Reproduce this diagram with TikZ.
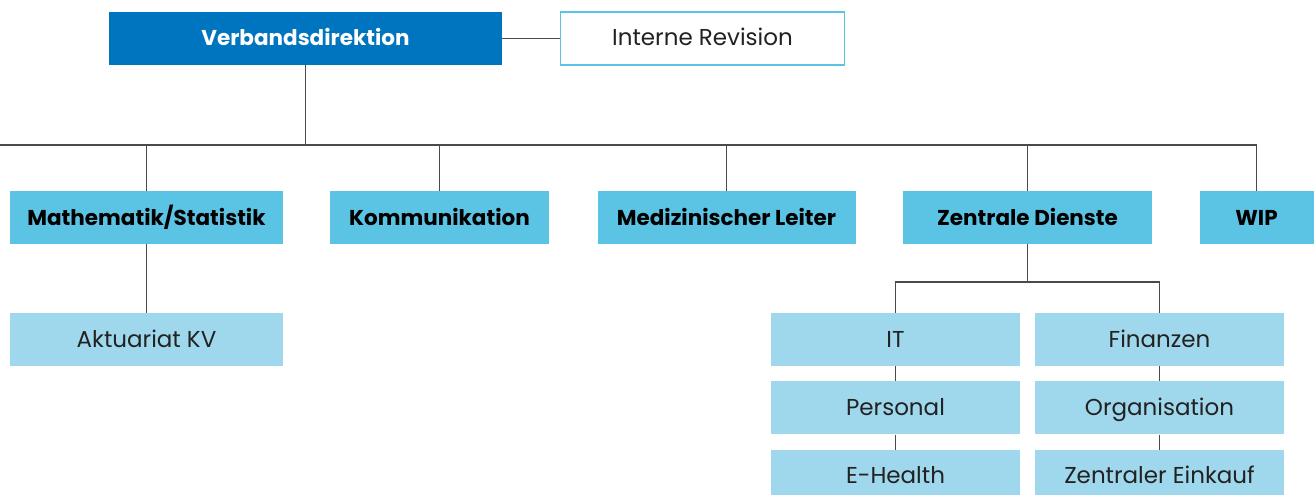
\documentclass[tikz,border=0pt]{standalone}
\usepackage{fontspec}
\setmainfont{Poppins}
\usepackage{xcolor}
\usetikzlibrary{positioning}
\definecolor{vdblue}{HTML}{0075BF}
\definecolor{midcyan}{HTML}{5BC3E3}
\definecolor{lightcyan}{HTML}{9FD7EC}
\definecolor{linegray}{HTML}{4A4A4A}
\definecolor{textgray}{HTML}{222222}

\begin{document}
\begin{tikzpicture}[x=1pt, y=-1pt,
    box/.style={minimum height=53pt, inner sep=0pt, text height=19pt, text depth=4pt, font=\fontsize{23}{27}\selectfont},
    headbox/.style={box, fill=vdblue, text=white, font=\fontsize{21.5}{25}\selectfont\bfseries},
    deptbox/.style={box, fill=midcyan, text=black, font=\fontsize{21.5}{25}\selectfont\bfseries},
    subbox/.style={box, fill=lightcyan, text=textgray},
    conn/.style={draw=linegray, line width=1.2pt}]
        \useasboundingbox (0,0) rectangle (1315,495);

        % top
        \node[headbox, minimum width=393pt] (vd) at (305.5,38.5) {Verbandsdirektion};
        \node[box, draw=midcyan, line width=1.2pt, fill=white, text=textgray, minimum width=284pt] (rev) at (702.5,38.5) {Interne Revision};
        \draw[conn] (vd) -- (rev);

        % departments
        \node[deptbox, minimum width=273pt] (math) at (146.5,217.5) {Mathematik/Statistik};
        \node[deptbox, minimum width=219pt] (komm) at (439.5,217.5) {Kommunikation};
        \node[deptbox, minimum width=258pt] (med) at (726.5,217.5) {Medizinischer Leiter};
        \node[deptbox, minimum width=249pt] (zd) at (1027.5,217.5) {Zentrale Dienste};
        \node[deptbox, minimum width=114pt] (wip) at (1256.5,217.5) {WIP};

        \coordinate (bus) at (0,145);
        \draw[conn] (bus) -- (bus -| wip) -- (wip.north);
        \draw[conn] (vd.south) -- (vd.south |- bus);
        \foreach \d in {math,komm,med,zd}
            \draw[conn] (\d.north) -- (\d.north |- bus);

        % sub units
        \node[subbox, minimum width=273pt] (akt) at (146.5,339.5) {Aktuariat KV};
        \draw[conn] (math) -- (akt);

        \node[subbox, minimum width=249pt] (it) at (895.5,339.5) {IT};
        \node[subbox, minimum width=249pt, below=15pt of it] (pers) {Personal};
        \node[subbox, minimum width=249pt, below=15pt of pers] (ehealth) {E-Health};
        \node[subbox, minimum width=249pt] (fin) at (1159.5,339.5) {Finanzen};
        \node[subbox, minimum width=249pt, below=15pt of fin] (org) {Organisation};
        \node[subbox, minimum width=249pt, below=15pt of org] (eink) {Zentraler Einkauf};

        \coordinate (zdbus) at (1027.5,282);
        \draw[conn] (zd.south) -- (zdbus);
        \draw[conn] (it.north) |- (zdbus) -| (fin.north);
        \draw[conn] (it) -- (pers) (pers) -- (ehealth);
        \draw[conn] (fin) -- (org) (org) -- (eink);

    \end{tikzpicture}
\end{document}
